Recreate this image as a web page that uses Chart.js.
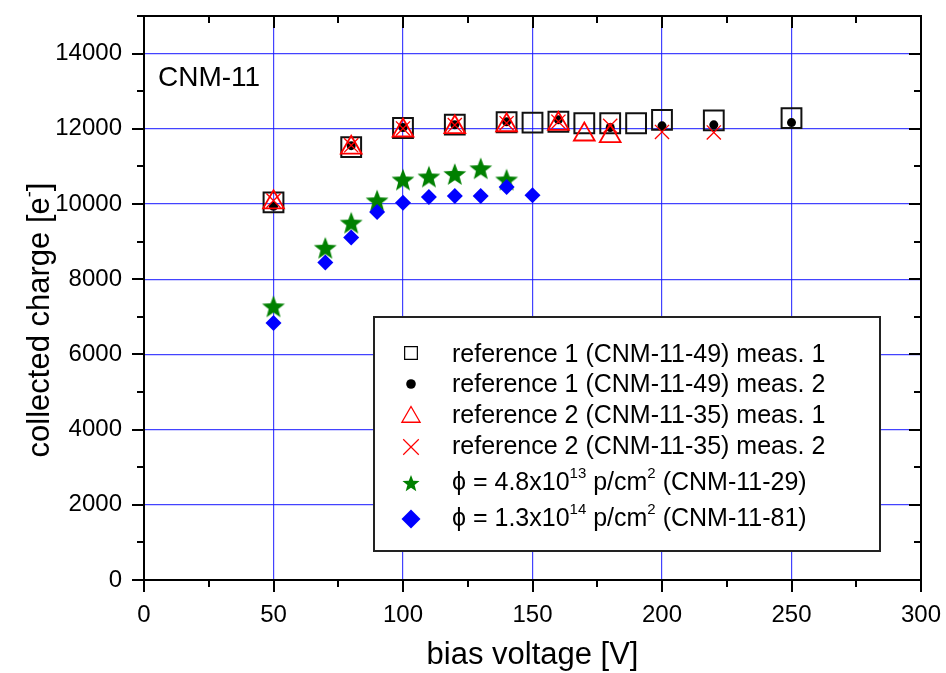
<!DOCTYPE html>
<html>
<head>
<meta charset="utf-8">
<script src="https://cdn.jsdelivr.net/npm/chart.js@4/dist/chart.umd.min.js"></script>
<style>
  html, body { margin: 0; padding: 0; background: #fff; }
  canvas { display: block; }
</style>
</head>
<body>
<canvas id="chart" width="946" height="673"></canvas>
<script>
/* ── DATA ─────────────────────────────────────────────────────────────── */
const xTicks = [0, 50, 100, 150, 200, 250, 300];
const yTicks = [0, 2000, 4000, 6000, 8000, 10000, 12000, 14000];

// reference 1 (CNM-11-49) meas. 1 — open squares
const ref1m1V = [50, 80, 100, 120, 140, 150, 160, 170, 180, 190, 200, 220, 250];
const ref1m1Q = [10045, 11514, 12021, 12113, 12174, 12166, 12187, 12148, 12148, 12148, 12238, 12225, 12285];

// reference 1 (CNM-11-49) meas. 2 — black dots
const ref1m2V = [50, 80, 100, 120, 140, 160, 180, 200, 220, 250];
const ref1m2Q = [9940, 11551, 12034, 12106, 12185, 12238, 12034, 12079, 12106, 12166];

// reference 2 (CNM-11-35) meas. 1 — open red triangles
const ref2m1V = [50, 80, 100, 120, 140, 160, 170, 180];
const ref2m1Q = [10045, 11498, 11955, 12042, 12095, 12132, 11849, 11805];

// reference 2 (CNM-11-35) meas. 2 — red crosses
const ref2m2V = [50, 80, 100, 120, 140, 160, 180, 200, 220];
const ref2m2Q = [10090, 11560, 12010, 12100, 12150, 12190, 12079, 11916, 11902];

// phi = 4.8e13 (CNM-11-29) — green stars
const irr29V = [50, 70, 80, 90, 100, 110, 120, 130, 140];
const irr29Q = [7279, 8837, 9506, 10098, 10653, 10732, 10801, 10951, 10653];

// phi = 1.3e14 (CNM-11-81) — blue diamonds
const irr81V = [50, 70, 80, 90, 100, 110, 120, 130, 140, 150];
const irr81Q = [6838, 8441, 9110, 9789, 10034, 10185, 10211, 10211, 10449, 10230];

/* ── STYLE ────────────────────────────────────────────────────────────── */
const FONT = "'Liberation Sans', Arial, sans-serif";
const GRID_BLUE = "rgba(20,20,255,0.8)";
const GREEN = "#008000";
const RED = "#ff0000";
const BLUE = "#0000ff";

function pts(xs, ys) {
  return xs.map((x, i) => ({ x, y: ys[i] }));
}

// filled 5-point star as a canvas point style
function starCanvas(R, color) {
  const size = Math.ceil(R * 2 + 4);
  const c = document.createElement("canvas");
  c.width = size;
  c.height = size;
  const g = c.getContext("2d");
  const cx = size / 2;
  const cy = size / 2 + R * 0.1;
  const r = R * 0.42;
  g.beginPath();
  for (let i = 0; i < 10; i++) {
    const rad = (Math.PI / 5) * i - Math.PI / 2;
    const rr = i % 2 === 0 ? R : r;
    const px = cx + Math.cos(rad) * rr;
    const py = cy + Math.sin(rad) * rr;
    if (i === 0) g.moveTo(px, py);
    else g.lineTo(px, py);
  }
  g.closePath();
  g.fillStyle = color;
  g.fill();
  return c;
}

const starBig = starCanvas(12, GREEN);
const starSmall = starCanvas(9, GREEN);

/* ── PLUGIN: frame, tick marks, labels, legend ───────────────────────── */
function drawRich(ctx, parts, x, y) {
  let cx = x;
  parts.forEach((p) => {
    ctx.font = p.sup ? `15px ${FONT}` : `25px ${FONT}`;
    const dy = p.sup ? -12 : 0;
    ctx.fillText(p.t, cx, y + dy);
    cx += ctx.measureText(p.t).width;
  });
}

const framePlugin = {
  id: "frame",
  afterDraw(chart) {
    const ctx = chart.ctx;
    const a = chart.chartArea;
    const sx = chart.scales.x;
    const sy = chart.scales.y;
    ctx.save();
    ctx.strokeStyle = "#000";
    ctx.lineWidth = 2;

    // top + right frame
    ctx.beginPath();
    ctx.moveTo(a.left, a.top);
    ctx.lineTo(a.right, a.top);
    ctx.lineTo(a.right, a.bottom);
    ctx.stroke();

    // x ticks: outside at bottom, inside at top
    for (let v = 0; v <= 300; v += 25) {
      const px = Math.round(sx.getPixelForValue(v));
      const len = v % 50 === 0 ? 12 : 7;
      ctx.beginPath();
      ctx.moveTo(px, a.bottom);
      ctx.lineTo(px, a.bottom + len);
      ctx.moveTo(px, a.top);
      ctx.lineTo(px, a.top + len);
      ctx.stroke();
    }
    // y ticks: outside at left, inside at right
    for (let v = 0; v <= 15000; v += 1000) {
      const py = Math.round(sy.getPixelForValue(v));
      const len = v % 2000 === 0 ? 12 : 7;
      ctx.beginPath();
      ctx.moveTo(a.left, py);
      ctx.lineTo(a.left - len, py);
      ctx.moveTo(a.right, py);
      ctx.lineTo(a.right - len, py);
      ctx.stroke();
    }

    // y title with superscript minus
    ctx.fillStyle = "#000";
    ctx.textBaseline = "alphabetic";
    ctx.textAlign = "left";
    ctx.save();
    ctx.translate(49, 320);
    ctx.rotate(-Math.PI / 2);
    ctx.font = `31px ${FONT}`;
    const t1 = "collected charge [e";
    const w1 = ctx.measureText(t1).width;
    ctx.font = `18px ${FONT}`;
    const w2 = ctx.measureText("-").width;
    ctx.font = `31px ${FONT}`;
    const w3 = ctx.measureText("]").width;
    let tx = -(w1 + w2 + w3) / 2;
    ctx.fillText(t1, tx, 0);
    tx += w1;
    ctx.font = `18px ${FONT}`;
    ctx.fillText("-", tx, -14);
    tx += w2;
    ctx.font = `31px ${FONT}`;
    ctx.fillText("]", tx, 0);
    ctx.restore();

    // sample label
    ctx.font = `28px ${FONT}`;
    ctx.fillText("CNM-11", 158, 86);

    // legend box
    const lx = 374, ly = 317, lw = 506, lh = 234;
    ctx.fillStyle = "#fff";
    ctx.fillRect(lx, ly, lw, lh);
    ctx.strokeStyle = "#222";
    ctx.lineWidth = 2;
    ctx.strokeRect(lx, ly, lw, lh);

    const mx = 411;
    const tx0 = 452;
    const H = Chart.helpers;
    const mark = (style, r, fill, stroke, bw, y) => {
      ctx.save();
      ctx.fillStyle = fill;
      ctx.strokeStyle = stroke;
      ctx.lineWidth = bw;
      H.drawPoint(ctx, { pointStyle: style, radius: r, borderWidth: bw, rotation: 0 }, mx, y);
      ctx.restore();
    };
    mark("rect", 9, "rgba(0,0,0,0)", "#000", 1.2, 353);
    mark("circle", 4.8, "#000", "#000", 0, 384);
    mark("triangle", 10.5, "rgba(0,0,0,0)", RED, 1.3, 417);
    mark("crossRot", 11, RED, RED, 1.2, 447);
    mark(starSmall, 8, GREEN, GREEN, 0, 483);
    mark("rectRot", 9.5, BLUE, BLUE, 0, 519);

    ctx.fillStyle = "#000";
    ctx.font = `25px ${FONT}`;
    ctx.fillText("reference 1 (CNM-11-49) meas. 1", tx0, 362);
    ctx.fillText("reference 1 (CNM-11-49) meas. 2", tx0, 392);
    ctx.fillText("reference 2 (CNM-11-35) meas. 1", tx0, 423);
    ctx.fillText("reference 2 (CNM-11-35) meas. 2", tx0, 454);
    drawRich(ctx, [
      { t: "\u03d5 = 4.8x10" }, { t: "13", sup: true }, { t: " p/cm" },
      { t: "2", sup: true }, { t: " (CNM-11-29)" },
    ], tx0, 490);
    drawRich(ctx, [
      { t: "\u03d5 = 1.3x10" }, { t: "14", sup: true }, { t: " p/cm" },
      { t: "2", sup: true }, { t: " (CNM-11-81)" },
    ], tx0, 526);
    ctx.restore();
  },
};

/* ── CHART ────────────────────────────────────────────────────────────── */
const gridColor = (edge) => (c) =>
  c.tick && (c.tick.value === 0 || c.tick.value === edge) ? "rgba(0,0,0,0)" : GRID_BLUE;

function noPad(s) {
  s.paddingTop = 0;
  s.paddingBottom = 0;
  s.paddingLeft = 0;
  s.paddingRight = 0;
}

new Chart(document.getElementById("chart"), {
  type: "scatter",
  data: {
    datasets: [
      {
        label: "reference 1 (CNM-11-49) meas. 1",
        data: pts(ref1m1V, ref1m1Q),
        pointStyle: "rect",
        pointRadius: 14,
        backgroundColor: "rgba(0,0,0,0)",
        borderColor: "#111",
        borderWidth: 2,
        order: 5,
      },
      {
        label: "reference 1 (CNM-11-49) meas. 2",
        data: pts(ref1m2V, ref1m2Q),
        pointStyle: "circle",
        pointRadius: 4.5,
        backgroundColor: "#000",
        borderColor: "#000",
        borderWidth: 0,
        order: 4,
      },
      {
        label: "reference 2 (CNM-11-35) meas. 1",
        data: pts(ref2m1V, ref2m1Q),
        pointStyle: "triangle",
        pointRadius: 12,
        backgroundColor: "rgba(0,0,0,0)",
        borderColor: RED,
        borderWidth: 1.8,
        order: 3,
      },
      {
        label: "reference 2 (CNM-11-35) meas. 2",
        data: pts(ref2m2V, ref2m2Q),
        pointStyle: "crossRot",
        pointRadius: 10,
        borderColor: RED,
        borderWidth: 1.3,
        order: 2,
      },
      {
        label: "phi = 4.8x10^13 p/cm^2 (CNM-11-29)",
        data: pts(irr29V, irr29Q),
        pointStyle: starBig,
        pointRadius: 12,
        backgroundColor: GREEN,
        borderColor: GREEN,
        order: 1,
      },
      {
        label: "phi = 1.3x10^14 p/cm^2 (CNM-11-81)",
        data: pts(irr81V, irr81Q),
        pointStyle: "rectRot",
        pointRadius: 8,
        backgroundColor: BLUE,
        borderColor: BLUE,
        borderWidth: 0,
        order: 0,
      },
    ],
  },
  options: {
    responsive: false,
    animation: false,
    devicePixelRatio: 1,
    events: [],
    layout: { padding: { top: 12, right: 25, left: 0, bottom: 0 } },
    plugins: { legend: { display: false }, tooltip: { enabled: false } },
    scales: {
      x: {
        type: "linear",
        position: "bottom",
        min: 0,
        max: 300,
        afterBuildTicks: (s) => { s.ticks = xTicks.map((v) => ({ value: v })); },
        afterFit: (s) => { s.height = 93; noPad(s); },
        ticks: {
          color: "#000",
          padding: 21,
          maxRotation: 0,
          font: { family: FONT, size: 24 },
          callback: (v) => String(v),
        },
        grid: { color: gridColor(300), lineWidth: 1.2, drawTicks: false },
        border: { display: true, color: "#000", width: 2 },
        title: {
          display: true,
          text: "bias voltage [V]",
          color: "#000",
          font: { family: FONT, size: 31, lineHeight: 1 },
          padding: { top: 0, bottom: 2 },
        },
      },
      y: {
        type: "linear",
        min: 0,
        max: 15000,
        afterBuildTicks: (s) => { s.ticks = yTicks.map((v) => ({ value: v })); },
        afterFit: (s) => { s.width = 144; noPad(s); },
        ticks: {
          color: "#000",
          padding: 22,
          font: { family: FONT, size: 24 },
          callback: (v) => String(v),
        },
        grid: { color: gridColor(15000), lineWidth: 1.2, drawTicks: false },
        border: { display: true, color: "#000", width: 2 },
      },
    },
  },
  plugins: [framePlugin],
});
</script>
</body>
</html>
